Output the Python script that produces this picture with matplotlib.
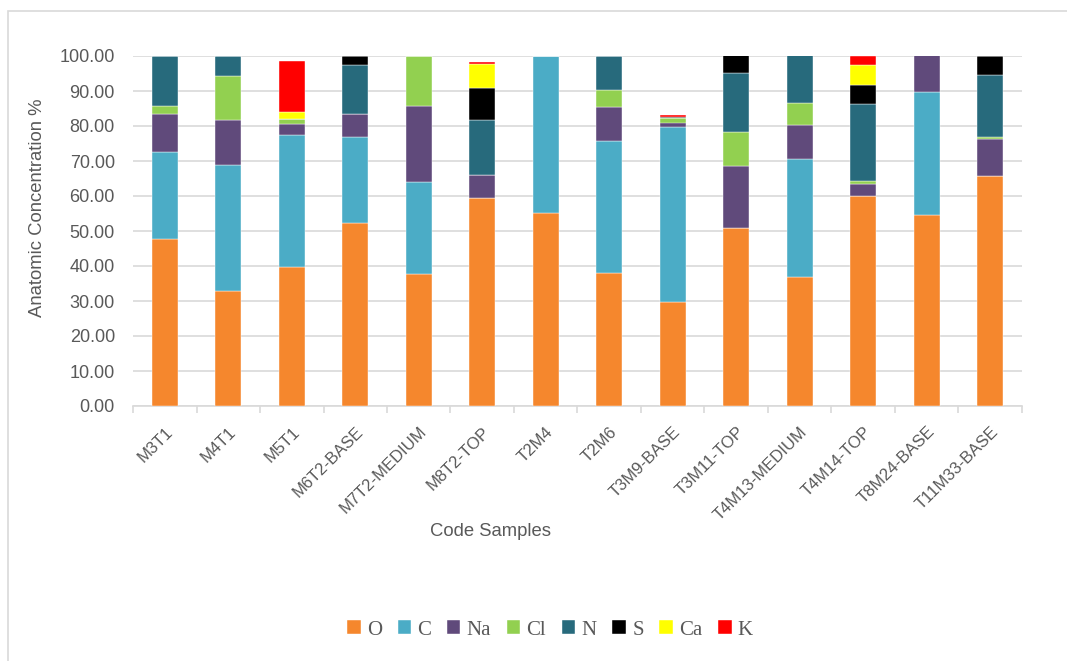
import numpy as np
import matplotlib
matplotlib.use("Agg")
import matplotlib.pyplot as plt
from matplotlib.patches import Rectangle

samples = ["M3T1", "M4T1", "M5T1", "M6T2-BASE", "M7T2-MEDIUM", "M8T2-TOP", "T2M4",
           "T2M6", "T3M9-BASE", "T3M11-TOP", "T4M13-MEDIUM", "T4M14-TOP", "T8M24-BASE",
           "T11M33-BASE"]

elements = ["O", "C", "Na", "Cl", "N", "S", "Ca", "K"]
colors = ["#F5872D", "#4BACC6", "#604A7B", "#92D050", "#276A7C", "#000000", "#FFFF00", "#FF0000"]

O  = [47.6, 32.8, 39.6, 52.4, 37.7, 59.4, 55.2, 38.1, 29.6, 50.8, 36.8, 59.9, 54.6, 65.8]
C  = [24.9, 36.2, 37.7, 24.6, 26.4, 0.0, 44.8, 37.6, 50.1, 0.0, 33.8, 0.0, 35.2, 0.0]
Na = [11.0, 12.7, 3.4, 6.5, 21.6, 6.5, 0.0, 9.7, 1.3, 17.9, 9.6, 3.6, 10.4, 10.6]
Cl = [2.2, 12.5, 1.3, 0.0, 14.3, 0.0, 0.0, 4.9, 1.2, 9.6, 6.4, 0.9, 0.0, 0.5]
N  = [14.3, 5.8, 0.0, 13.8, 0.0, 15.8, 0.0, 9.7, 0.2, 16.8, 13.6, 21.9, 0.0, 17.8]
S  = [0.0, 0.0, 0.0, 2.7, 0.0, 9.2, 0.0, 0.0, 0.3, 5.1, 0.0, 5.4, 0.0, 5.3]
Ca = [0.0, 0.0, 1.9, 0.0, 0.0, 6.8, 0.0, 0.0, 0.0, 0.0, 0.0, 5.8, 0.0, 0.0]
K  = [0.0, 0.0, 14.7, 0.0, 0.0, 0.6, 0.0, 0.0, 0.5, 0.0, 0.0, 2.5, 0.0, 0.0]

series = [O, C, Na, Cl, N, S, Ca, K]

plt.rcParams['font.family'] = ['Liberation Sans', 'DejaVu Sans']
gray = "#595959"

fig = plt.figure(figsize=(10.67, 6.61), dpi=100)
ax = fig.add_axes([133 / 1067, 1 - 406 / 661, (1022 - 133) / 1067, 350 / 661])

# chart border (runs off the right/bottom edges as in the source)
fig.patches.append(Rectangle((8 / 1067, -0.1), 1.2, 1 - 11 / 661 + 0.1,
                             transform=fig.transFigure, fill=False,
                             edgecolor="#D9D9D9", linewidth=1.2))

x = np.arange(len(samples))
bottom = np.zeros(len(samples))
for name, vals, col in zip(elements, series, colors):
    vals = np.array(vals)
    ax.bar(x, vals, width=0.41, bottom=bottom, color=col, label=name,
           edgecolor="white", linewidth=0.3, zorder=3)
    bottom += vals

ax.set_xlim(-0.5, len(samples) - 0.5)
ax.set_ylim(0, 100)
ax.set_yticks(np.arange(0, 101, 10))
ax.set_yticklabels([f"{v:.2f}" for v in np.arange(0, 101, 10)])
ax.yaxis.grid(True, color="#D9D9D9", linewidth=1.2, zorder=0)
ax.tick_params(axis="y", length=0, labelsize=13, colors=gray, pad=13)

ax.set_xticks(x)
ax.set_xticklabels(samples, rotation=45, ha="right", rotation_mode="anchor")
ax.tick_params(axis="x", length=0, labelsize=12, colors=gray, pad=13)
ax.set_xticks(np.arange(-0.5, len(samples)), minor=True)
ax.tick_params(axis="x", which="minor", length=5, color="#D9D9D9", width=1.2)

for s in ["top", "right", "left"]:
    ax.spines[s].set_visible(False)
ax.spines["bottom"].set_color("#D9D9D9")
ax.spines["bottom"].set_linewidth(1.2)

fig.text(491 / 1067, 1 - 531 / 661, "Code Samples", ha="center", va="center",
         fontsize=13.3, color=gray)
fig.text(38 / 1067, 1 - 208 / 661, "Anatomic Concentration %", ha="center", va="center",
         rotation=90, fontsize=13.3, color=gray)

leg = fig.legend(loc="center", bbox_to_anchor=(550 / 1067, 1 - 630 / 661), ncol=8,
                 frameon=False, handlelength=0.65, handleheight=0.65, handletextpad=0.3,
                 columnspacing=0.75, prop={"family": "Liberation Serif", "size": 15})
for t in leg.get_texts():
    t.set_color(gray)

fig.savefig("out.png", dpi=100)
